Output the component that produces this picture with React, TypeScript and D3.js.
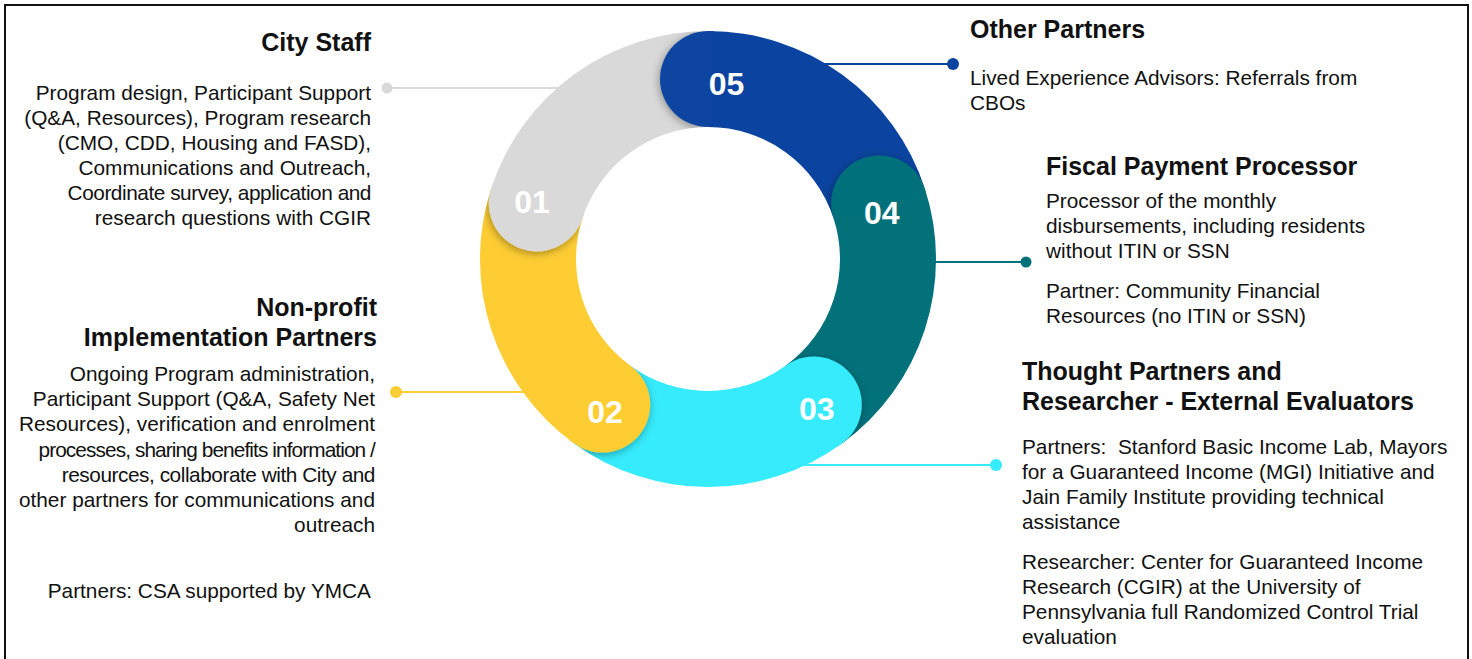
import React from 'react';
import * as d3 from 'd3';

// ---- data ----
const segmentLabels = ['05', '04', '03', '02', '01'];
const segmentValues = [1, 1, 1, 1, 1];
const segmentColors = ['#0B44A0', '#02717A', '#36EBFC', '#FDCD33', '#D9D9D9'];

const cityStaffTitle = ['City Staff'];
const cityStaffBody = [
  'Program design, Participant Support',
  '(Q&A, Resources), Program research',
  '(CMO, CDD, Housing and FASD),',
  'Communications and Outreach,',
  'Coordinate survey, application and',
  'research questions with CGIR',
];
const nonProfitTitle = ['Non-profit', 'Implementation Partners'];
const nonProfitBody = [
  'Ongoing Program administration,',
  'Participant Support (Q&A, Safety Net',
  'Resources), verification and enrolment',
  'processes, sharing benefits information /',
  'resources, collaborate with City and',
  'other partners for communications and',
  'outreach',
];
const nonProfitPartners = ['Partners: CSA supported by YMCA'];
const otherTitle = ['Other Partners'];
const otherBody = ['Lived Experience Advisors: Referrals from', 'CBOs'];
const fiscalTitle = ['Fiscal Payment Processor'];
const fiscalBody = [
  'Processor of the monthly',
  'disbursements, including residents',
  'without ITIN or SSN',
];
const fiscalPartner = ['Partner: Community Financial', 'Resources (no ITIN or SSN)'];
const thoughtTitle = ['Thought Partners and', 'Researcher - External Evaluators'];
const thoughtBody = [
  'Partners:  Stanford Basic Income Lab, Mayors',
  'for a Guaranteed Income (MGI) Initiative and',
  'Jain Family Institute providing technical',
  'assistance',
];
const thoughtResearcher = [
  'Researcher: Center for Guaranteed Income',
  'Research (CGIR) at the University of',
  'Pennsylvania full Randomized Control Trial',
  'evaluation',
];

// ---- layout / style ----
const W = 1472;
const H = 659;
const CX = 708;
const CY = 259;
const R_OUT = 228;
const R_IN = 132;
const R_MID = (R_OUT + R_IN) / 2;
const CAP_R = (R_OUT - R_IN) / 2;
const FONT = "'Liberation Sans', Arial, Helvetica, sans-serif";
const TEXT = '#111111';
const TITLE_SIZE = 25;
const BODY_SIZE = 20.8;
// label placement tweaks: [angle nudge in degrees, radius]
const labelPlacement: [number, number][] = [
  [6, 177],
  [3, 180],
  [0, 185],
  [-2, 184],
  [0, 185],
];
// lines that the original typesetting squeezed
const tightSpacing: Record<string, number> = {
  'processes, sharing benefits information /': -0.9,
  'resources, collaborate with City and': -0.45,
  'Coordinate survey, application and': -0.45,
};

type Block = { lines: string[]; x: number; y: number; anchor: 'start' | 'end'; bold: boolean; size: number; step: number };

function TextBlock({ b }: { b: Block }) {
  return (
    <g>
      {b.lines.map((t, i) => (
        <text
          key={i}
          x={b.x}
          y={b.y + i * b.step}
          textAnchor={b.anchor}
          fontFamily={FONT}
          fontSize={b.size}
          fontWeight={b.bold ? 'bold' : 'normal'}
          fill={TEXT}
          letterSpacing={tightSpacing[t] ?? 0}
          style={{ whiteSpace: 'pre' }}
        >
          {t}
        </text>
      ))}
    </g>
  );
}

export default function App() {
  const pie = d3
    .pie<number>()
    .value((d) => d)
    .sort(null)
    .startAngle(0)
    .endAngle(2 * Math.PI);
  const arcs = pie(segmentValues);
  const arcGen = d3.arc<any>().innerRadius(R_IN).outerRadius(R_OUT);

  const pt = (a: number, r: number) => [r * Math.sin(a), -r * Math.cos(a)];
  const deg = Math.PI / 180;

  const connectors = [
    { seg: 4, x1: 387, y1: 88, x2: 708, y2: 88, r: 5.5 },
    { seg: 3, x1: 396, y1: 392, x2: 600, y2: 392, r: 6 },
    { seg: 0, x1: 953, y1: 64, x2: 720, y2: 64, r: 6 },
    { seg: 1, x1: 1026, y1: 262, x2: 888, y2: 262, r: 5.5 },
    { seg: 2, x1: 996, y1: 465, x2: 760, y2: 465, r: 6 },
  ];

  const blocks: Block[] = [
    { lines: cityStaffTitle, x: 371, y: 51, anchor: 'end', bold: true, size: TITLE_SIZE, step: 30 },
    { lines: cityStaffBody, x: 371, y: 100, anchor: 'end', bold: false, size: BODY_SIZE, step: 25 },
    { lines: nonProfitTitle, x: 377, y: 316, anchor: 'end', bold: true, size: TITLE_SIZE, step: 30 },
    { lines: nonProfitBody, x: 375, y: 381, anchor: 'end', bold: false, size: BODY_SIZE, step: 25.2 },
    { lines: nonProfitPartners, x: 371, y: 598, anchor: 'end', bold: false, size: BODY_SIZE, step: 25 },
    { lines: otherTitle, x: 970, y: 38, anchor: 'start', bold: true, size: TITLE_SIZE, step: 30 },
    { lines: otherBody, x: 970, y: 85, anchor: 'start', bold: false, size: BODY_SIZE, step: 25 },
    { lines: fiscalTitle, x: 1046, y: 175, anchor: 'start', bold: true, size: TITLE_SIZE, step: 30 },
    { lines: fiscalBody, x: 1046, y: 208, anchor: 'start', bold: false, size: BODY_SIZE, step: 25 },
    { lines: fiscalPartner, x: 1046, y: 298, anchor: 'start', bold: false, size: BODY_SIZE, step: 25 },
    { lines: thoughtTitle, x: 1022, y: 380, anchor: 'start', bold: true, size: TITLE_SIZE, step: 30 },
    { lines: thoughtBody, x: 1022, y: 454, anchor: 'start', bold: false, size: BODY_SIZE, step: 25 },
    { lines: thoughtResearcher, x: 1022, y: 569, anchor: 'start', bold: false, size: BODY_SIZE, step: 25 },
  ];

  return (
    <svg
      width={W}
      height={H}
      viewBox={`0 0 ${W} ${H}`}
      style={{ position: 'absolute', left: 0, top: 0, display: 'block', background: '#fff' }}
    >
      <defs>
        <filter id="capShadow" x="-60%" y="-60%" width="220%" height="220%">
          <feDropShadow dx="-1" dy="2" stdDeviation="4.5" floodColor="#000" floodOpacity="0.35" />
        </filter>
        {arcs.map((a, i) => (
          <clipPath id={`prevClip${i}`} key={i}>
            <path
              d={
                arcGen({
                  startAngle: a.startAngle - (a.endAngle - a.startAngle),
                  endAngle: a.startAngle + 1.5 * deg,
                }) as string
              }
            />
          </clipPath>
        ))}
      </defs>

      <rect x={5} y={5} width={W - 9} height={H + 40} fill="none" stroke="#111" strokeWidth={2} />

      {/* connectors */}
      {connectors.map((c, i) => (
        <g key={i}>
          <line x1={c.x1} y1={c.y1} x2={c.x2} y2={c.y2} stroke={segmentColors[c.seg]} strokeWidth={2} />
          <circle cx={c.x1} cy={c.y1} r={c.r} fill={segmentColors[c.seg]} />
        </g>
      ))}

      {/* ring */}
      <g transform={`translate(${CX},${CY})`}>
        {arcs.map((a, i) => (
          <path key={`b${i}`} d={arcGen(a) as string} fill={segmentColors[i]} />
        ))}
        {arcs.map((a, i) => {
          const [x, y] = pt(a.startAngle, R_MID);
          return (
            <g key={`c${i}`} clipPath={`url(#prevClip${i})`}>
              <circle cx={x} cy={y} r={CAP_R} fill={segmentColors[i]} filter="url(#capShadow)" />
            </g>
          );
        })}
        {arcs.map((a, i) => {
          const [nudge, rr] = labelPlacement[i];
          const [x, y] = pt(a.startAngle + nudge * deg, rr);
          return (
            <text
              key={`l${i}`}
              x={x}
              y={y}
              dy="0.36em"
              textAnchor="middle"
              fontFamily={FONT}
              fontWeight="bold"
              fontSize={32}
              fill="#fff"
            >
              {segmentLabels[i]}
            </text>
          );
        })}
      </g>

      {blocks.map((b, i) => (
        <TextBlock key={i} b={b} />
      ))}
    </svg>
  );
}
